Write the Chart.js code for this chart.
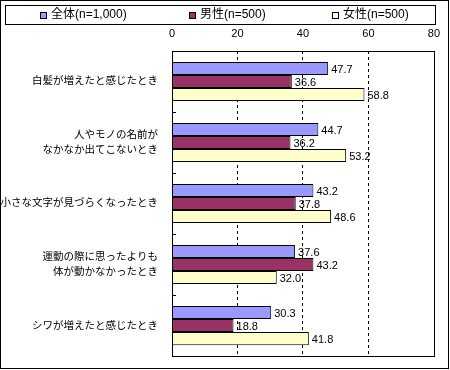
<!DOCTYPE html>
<html>
<head>
<meta charset="utf-8">
<script src="https://cdn.jsdelivr.net/npm/chart.js@4"></script>
<style>
  body { margin: 0; background: #fff; }
  canvas { display: block; }
</style>
</head>
<body>
<canvas id="agingChart" width="450" height="370"></canvas>
<script>
const categories = [
    '白髪が増えたと感じたとき',
    ['人やモノの名前が', 'なかなか出てこないとき'],
    '小さな文字が見づらくなったとき',
    ['運動の際に思ったよりも', '体が動かなかったとき'],
    'シワが増えたと感じたとき'
];
const seriesNames = ['全体(n=1,000)', '男性(n=500)', '女性(n=500)'];
const totalValues = [47.7, 44.7, 43.2, 37.6, 30.3];
const maleValues = [36.6, 36.2, 37.8, 43.2, 18.8];
const femaleValues = [58.8, 53.2, 48.6, 32.0, 41.8];
const xTicks = [0, 20, 40, 60, 80];

const FONT = "'Liberation Sans', 'Noto Sans CJK JP', sans-serif";

// labels, borders, legend box - drawn like the old Excel chart
const excelLook = {
    id: 'excelLook',
    afterDatasetsDraw(chart) {
        const ctx = chart.ctx;
        ctx.save();
        ctx.font = '11px ' + FONT;
        ctx.fillStyle = '#000';
        ctx.textAlign = 'left';
        ctx.textBaseline = 'middle';
        chart.data.datasets.forEach((ds, i) => {
            chart.getDatasetMeta(i).data.forEach((bar, j) => {
                ctx.fillText(ds.data[j].toFixed(1), bar.x + 3, bar.y + 1);
            });
        });
        ctx.restore();
    },
    afterDraw(chart) {
        const ctx = chart.ctx;
        const a = chart.chartArea;
        const yScale = chart.scales.y;
        ctx.save();
        ctx.strokeStyle = '#000';
        ctx.lineWidth = 1;
        ctx.setLineDash([]);

        // plot area frame
        ctx.strokeRect(Math.round(a.left) + 0.5, Math.round(a.top) + 0.5,
            Math.round(a.right - a.left), Math.round(a.bottom - a.top));

        // small category ticks inside the left axis
        const step = (a.bottom - a.top) / categories.length;
        ctx.beginPath();
        for (let i = 1; i < categories.length; i++) {
            const y = Math.round(yScale.getPixelForValue(i) - step / 2) + 0.5;
            ctx.moveTo(Math.round(a.left), y);
            ctx.lineTo(Math.round(a.left) + 4, y);
        }
        ctx.stroke();

        // legend box
        const box = { left: 5, top: 5, width: 430, height: 19 };
        ctx.strokeRect(box.left + 0.5, box.top + 0.5, box.width, box.height);
        ctx.font = '12px ' + FONT;
        ctx.textBaseline = 'middle';
        ctx.textAlign = 'left';
        const slot = box.width / seriesNames.length;
        chart.data.datasets.forEach((ds, i) => {
            const w = 11 + ctx.measureText(ds.label).width;
            const x0 = Math.round(box.left + slot * (i + 0.5) - w / 2 + 7);
            const cy = box.top + box.height / 2 + 0.5;
            ctx.fillStyle = ds.backgroundColor;
            ctx.fillRect(x0, 12, 7, 7);
            ctx.strokeRect(x0 + 0.5, 12.5, 6, 6);
            ctx.fillStyle = '#000';
            ctx.fillText(ds.label, x0 + 11, cy);
        });

        // outer frame
        ctx.strokeRect(0.5, 0.5, 448, 368);
        ctx.restore();
    }
};

const ctxAging = document.getElementById('agingChart').getContext('2d');
const agingChart = new Chart(ctxAging, {
    type: 'bar',
    data: {
        labels: categories,
        datasets: [
            { label: seriesNames[0], data: totalValues, backgroundColor: '#9999FF' },
            { label: seriesNames[1], data: maleValues, backgroundColor: '#993366' },
            { label: seriesNames[2], data: femaleValues, backgroundColor: '#FFFFCC' }
        ]
    },
    options: {
        indexAxis: 'y',
        responsive: false,
        animation: false,
        layout: { padding: { top: 28, right: 13, bottom: 4, left: 0 } },
        datasets: {
            bar: {
                borderColor: '#000',
                borderWidth: 1,
                categoryPercentage: 0.64,
                barPercentage: 1.0
            }
        },
        scales: {
            x: {
                position: 'top',
                min: 0,
                max: 80,
                afterBuildTicks: (scale) => { scale.ticks = xTicks.map(v => ({ value: v })); },
                afterFit: (scale) => { scale.height = 23; },
                ticks: { color: '#000', padding: 10, font: { family: FONT, size: 11 } },
                grid: {
                    drawTicks: false,
                    color: (c) => (c.tick && (c.tick.value === 0 || c.tick.value === 80)) ? 'rgba(0,0,0,0)' : '#000'
                },
                border: { display: false, dash: [3, 3] }
            },
            y: {
                afterFit: (scale) => { scale.width = 172; },
                ticks: { color: '#000', padding: 6, font: { family: FONT, size: 10.5, lineHeight: 1.5 } },
                grid: { display: false },
                border: { display: false }
            }
        },
        plugins: {
            legend: { display: false },
            tooltip: { enabled: false }
        }
    },
    plugins: [excelLook]
});
</script>
</body>
</html>
